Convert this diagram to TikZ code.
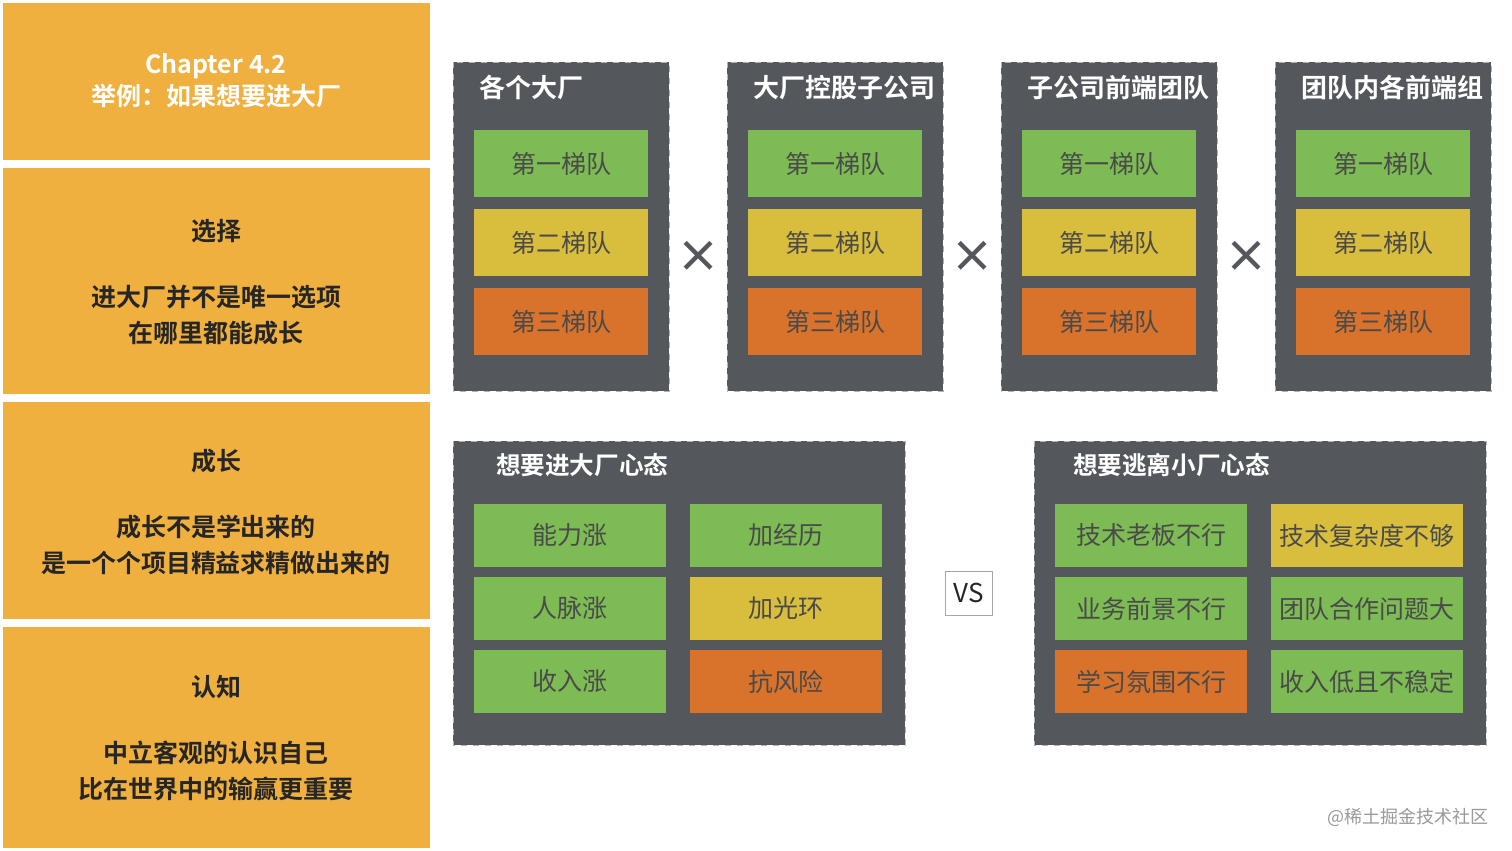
\documentclass[tikz,border=0pt]{standalone}
\usepackage{fontspec}
\setmainfont{Noto Sans CJK SC}
\newfontfamily\cjkb{Noto Sans CJK SC Bold}
\definecolor{org}{HTML}{F0B040}
\definecolor{dk}{HTML}{54575C}
\definecolor{gn}{HTML}{7DBB54}
\definecolor{yl}{HTML}{D9BE3E}
\definecolor{og}{HTML}{D9732B}
\definecolor{tx}{HTML}{4A4A4A}
\begin{document}
\begin{tikzpicture}[x=0.5pt,y=-0.5pt,
 panel/.style={fill=org,draw=none},
 grp/.style={fill=dk,draw=gray!60,dashed},
 cell/.style={draw=none,text=tx,font=\fontsize{12.5}{14}\selectfont},
 gtitle/.style={text=white,font=\cjkb\fontsize{13}{14}\selectfont,anchor=west},
 btitle/.style={gtitle,font=\cjkb\fontsize{12.3}{14}\selectfont},
 ptxt/.style={align=center,text=black!85,font=\cjkb\fontsize{12.5}{18}\selectfont}]
\useasboundingbox (0,0) rectangle (1512,851);
\fill[white] (0,0) rectangle (1512,851);
% left panels
\fill[panel] (3,3) rectangle (430,160);
\fill[panel] (3,168) rectangle (430,394);
\fill[panel] (3,402) rectangle (430,619);
\fill[panel] (3,627) rectangle (430,848);
\node[ptxt,text=white,font=\cjkb\fontsize{12.5}{16}\selectfont] (p1) at (216,81) {Chapter 4.2\\举例：如果想要进大厂};
\node[ptxt] (p2a) at (216,231) {选择};
\node[ptxt] (p2b) at (216,315) {进大厂并不是唯一选项\\在哪里都能成长};
\node[ptxt] (p3a) at (216,461) {成长};
\node[ptxt] (p3b) at (216,545) {成长不是学出来的\\是一个个项目精益求精做出来的};
\node[ptxt] (p4a) at (216,687) {认知};
\node[ptxt] (p4b) at (216,771) {中立客观的认识自己\\比在世界中的输赢更重要};
% top groups
\foreach \x/\t [count=\i] in {453/各个大厂,727/大厂控股子公司,1001/子公司前端团队,1275/团队内各前端组}{
 \draw[grp] (\x,62) rectangle ++(216,329);
 \node[gtitle] (gt\i) at (\x+19,88) {\t};
 \node[cell,fill=gn,minimum width=87pt,minimum height=33.5pt] (g\i a) at (\x+108,163.5) {第一梯队};
 \node[cell,fill=yl,minimum width=87pt,minimum height=33.5pt] (g\i b) at (\x+108,242.5) {第二梯队};
 \node[cell,fill=og,minimum width=87pt,minimum height=33.5pt] (g\i c) at (\x+108,321.5) {第三梯队};
}
\foreach \x [count=\i] in {698,972,1246}{
 \node[text=dk,font=\cjkb\fontsize{22}{22}\selectfont] (x\i) at (\x,257) {×};
}
% bottom groups
\draw[grp] (453,441) rectangle (905,745);
\node[btitle] (bl) at (489,465) {想要进大厂心态};
\draw[grp] (1034,441) rectangle (1486,745);
\node[btitle] (br) at (1066,465) {想要逃离小厂心态};
\tikzset{bc/.style={cell,minimum width=96pt,minimum height=31.5pt}}
\node[bc,fill=gn] (l1) at (570,535.5) {能力涨};
\node[bc,fill=gn] (r1) at (786,535.5) {加经历};
\node[bc,fill=gn] (l2) at (570,608.5) {人脉涨};
\node[bc,fill=yl] (r2) at (786,608.5) {加光环};
\node[bc,fill=gn] (l3) at (570,681.5) {收入涨};
\node[bc,fill=og] (r3) at (786,681.5) {抗风险};
\node[bc,fill=gn] (m1) at (1151,535.5) {技术老板不行};
\node[bc,fill=yl] (n1) at (1367,535.5) {技术复杂度不够};
\node[bc,fill=gn] (m2) at (1151,608.5) {业务前景不行};
\node[bc,fill=gn] (n2) at (1367,608.5) {团队合作问题大};
\node[bc,fill=og] (m3) at (1151,681.5) {学习氛围不行};
\node[bc,fill=gn] (n3) at (1367,681.5) {收入低且不稳定};
\node[draw=gray!70,fill=white,minimum width=23.5pt,minimum height=22pt,font=\fontsize{13}{14}\selectfont,text=black!85] (vs) at (968.5,593) {VS};
\node[text=gray!80,font=\fontsize{9}{10}\selectfont] (wm) at (1408,817) {@稀土掘金技术社区};
\end{tikzpicture}
\end{document}
